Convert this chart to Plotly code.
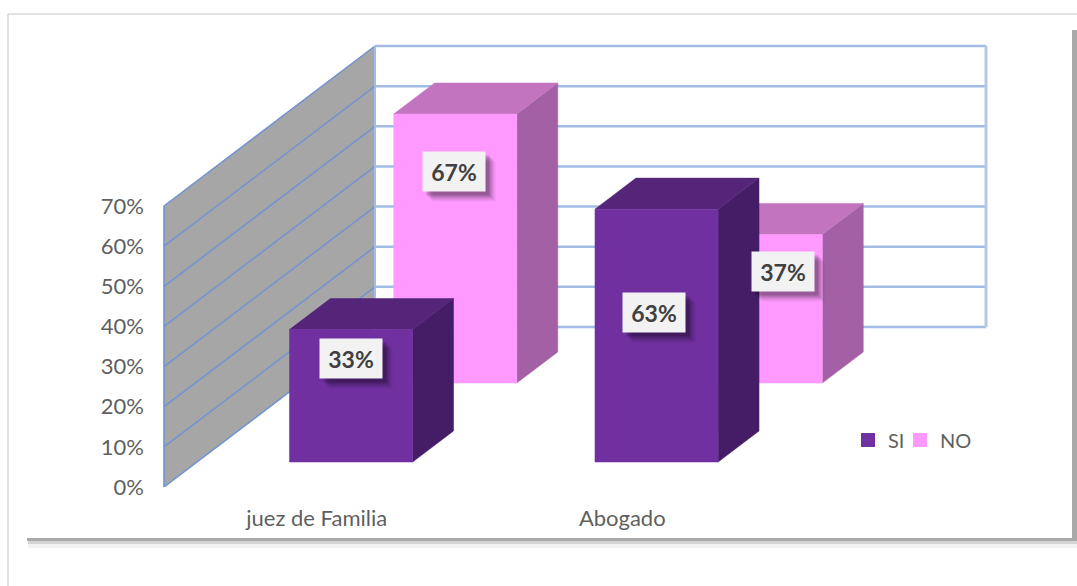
import plotly.graph_objects as go

# ---- data ----
categories = ["juez de Familia", "Abogado"]
si_values = [33, 63]
no_values = [67, 37]
value_ticks = [0, 10, 20, 30, 40, 50, 60, 70]
value_tick_labels = ["0%", "10%", "20%", "30%", "40%", "50%", "60%", "70%"]

# ---- pseudo-3D geometry (in axis units) ----
W, H = 1077, 586
CAT_PX = 305.5            # px per category
VAL_PX = 4.014            # px per percentage point
ORIGIN_X, ORIGIN_Y = 164, 487
AXIS_LEFT = 145
DX = 211 / CAT_PX         # depth shift in category units
DY = 160 / VAL_PX         # depth shift in value units
BAR_L, BAR_W = 0.303, 0.403
SI_DEPTH = (0.156, 0.35)
NO_DEPTH = (0.65, 0.844)
VMAX = 70

C_SI = ("#7030A0", "#542578", "#451C66")
C_NO = ("#FF99FF", "#C274BE", "#A360A5")
C_WALL = "#A6A6A6"
C_GRID = "#7294D0"
C_TEXT = "#5F5F5F"
FONT = "Lato"


def P(u, d, v):
    return u + d * DX, v + d * DY


def poly(pts, color, line=None):
    xs, ys = zip(*[P(*p) for p in pts])
    return go.Scatter(x=list(xs) + [xs[0]], y=list(ys) + [ys[0]], mode="lines", fill="toself",
                      fillcolor=color, line=dict(color=line or color, width=0.5),
                      showlegend=False, hoverinfo="skip")


def bar(i, value, depth, colors):
    l = i + BAR_L
    r = l + BAR_W
    d0, d1 = depth
    return [
        poly([(r, d0, 0), (r, d1, 0), (r, d1, value), (r, d0, value)], colors[2]),
        poly([(l, d0, value), (r, d0, value), (r, d1, value), (l, d1, value)], colors[1]),
        poly([(l, d0, 0), (r, d0, 0), (r, d0, value), (l, d0, value)], colors[0]),
    ]


fig = go.Figure()


def segment(a, b, color, width):
    fig.add_trace(go.Scatter(x=[a[0], b[0]], y=[a[1], b[1]], mode="lines",
                             line=dict(color=color, width=width), showlegend=False, hoverinfo="skip"))


# walls
fig.add_trace(poly([(0, 0, 0), (0, 1, 0), (0, 1, VMAX), (0, 0, VMAX)], C_WALL, C_GRID))
fig.add_trace(poly([(0, 1, 0), (2, 1, 0), (2, 1, VMAX), (0, 1, VMAX)], "#FFFFFF", "#B4C7E7"))

# gridlines
for v in value_ticks:
    segment(P(0, 1, v), P(2, 1, v), "#A3BCE6", 2.5)
    segment(P(0, 0, v), P(0, 1, v), C_GRID, 1.5)
segment(P(0, 1, 0), P(0, 1, VMAX), "#A3BCE6", 2)
segment(P(2, 1, 0), P(2, 1, VMAX), "#B4C7E7", 3)
segment(P(0, 0, 0), P(0, 0, VMAX), C_GRID, 1.5)

# bars (back row first)
for i, v in enumerate(no_values):
    fig.add_traces(bar(i, v, NO_DEPTH, C_NO))
for i, v in enumerate(si_values):
    fig.add_traces(bar(i, v, SI_DEPTH, C_SI))

# legend entries
for name, col, lg in (("SI", C_SI[0], "legend"), ("NO", C_NO[0], "legend2")):
    fig.add_trace(go.Scatter(x=[None], y=[None], mode="markers", name=name, legend=lg,
                             marker=dict(symbol="square", size=14, color=col)))

# value labels: anchored on the bar front-face centre, then nudged
nudges = {"si": [(0, -37), (-3, -23)], "no": [(-1, -77), (22, -37)]}
annos = []


def add_label(i, value, depth, nudge):
    x, y = P(i + BAR_L + BAR_W / 2, depth[0], value / 2)
    base = dict(x=x, y=y, xref="x", yref="y", showarrow=False, width=62, height=39,
                text="", borderpad=0)
    for off, alpha in ((10, .06), (8, .10), (6, .14), (4, .18)):
        annos.append(dict(base, xshift=nudge[0] + off, yshift=-nudge[1] - off,
                          bgcolor=f"rgba(0,0,0,{alpha})"))
    annos.append(dict(base, xshift=nudge[0], yshift=-nudge[1], bgcolor="#F2F2F2",
                      text=f"<b>{value}%</b>",
                      font=dict(family=FONT, size=23, color="#404040")))


for i, v in enumerate(no_values):
    add_label(i, v, NO_DEPTH, nudges["no"][i])
for i, v in enumerate(si_values):
    add_label(i, v, SI_DEPTH, nudges["si"][i])


def px(x):
    return x / W


def py(y):
    return 1 - y / H


def rect(x0, y0, x1, y1, color):
    return dict(type="rect", xref="paper", yref="paper", x0=px(x0), x1=px(x1), y0=py(y0), y1=py(y1),
                fillcolor=color, line=dict(width=0), layer="below")


def seg(x0, y0, x1, y1, color, w):
    return dict(type="line", xref="paper", yref="paper", x0=px(x0), x1=px(x1), y0=py(y0), y1=py(y1),
                line=dict(color=color, width=w), layer="below")


shapes = [
    seg(8, 14, 8, 586, "#D9D9D9", 1.5),
    seg(8, 14, 1077, 14, "#D9D9D9", 1.5),
    rect(28, 34, 1077, 548, "#F2F2F2"),
    rect(28, 34, 1077, 544, "#D4D4D4"),
    rect(27, 30, 1077, 541, "#A9A9A9"),
    rect(20, 27, 1072, 538, "#FFFFFF"),
]


def legend_at(x_px):
    return dict(orientation="h", x=x_px / W, y=py(440), xanchor="left", yanchor="middle",
                bgcolor="rgba(0,0,0,0)", font=dict(family=FONT, size=20, color=C_TEXT), itemwidth=30)


x_left = (AXIS_LEFT - ORIGIN_X) / CAT_PX
x_right = (W - ORIGIN_X) / CAT_PX
fig.update_layout(
    width=W, height=H, margin=dict(l=0, r=0, t=0, b=0, autoexpand=False), autosize=False,
    paper_bgcolor="white", plot_bgcolor="rgba(0,0,0,0)",
    shapes=shapes, annotations=annos, hovermode=False,
    font=dict(family=FONT, size=22, color=C_TEXT),
    legend=legend_at(848),
    legend2=legend_at(900),
    xaxis=dict(domain=[AXIS_LEFT / W, 1], range=[x_left, x_right], showgrid=False, zeroline=False,
               showline=False, tickmode="array", tickvals=[0.5, 1.5], ticktext=categories,
               ticks="", ticklabelstandoff=16, fixedrange=True),
    yaxis=dict(domain=[py(ORIGIN_Y), 1], range=[0, ORIGIN_Y / VAL_PX], showgrid=False, zeroline=False,
               showline=False, tickmode="array", tickvals=value_ticks, ticktext=value_tick_labels,
               ticks="", fixedrange=True),
)

fig.write_html("out.html", config={"displayModeBar": False},
               post_script="document.body.style.margin='0';")
